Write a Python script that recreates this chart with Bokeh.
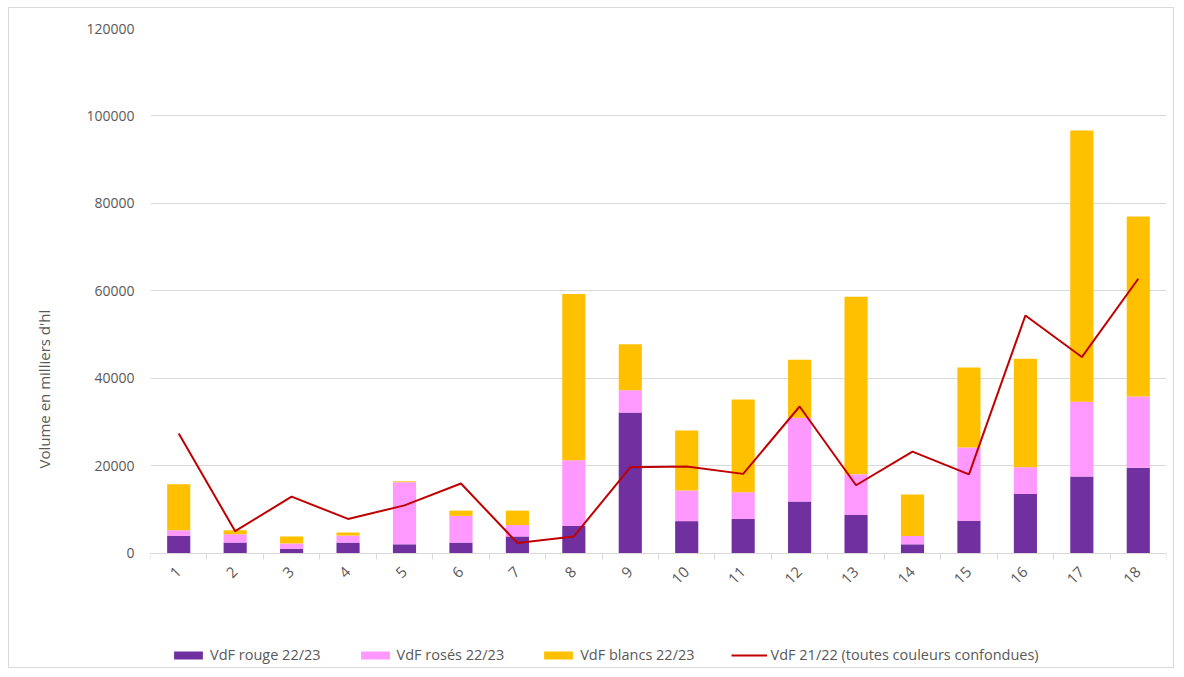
import math
from bokeh.plotting import figure
from bokeh.models import (ColumnDataSource, FixedTicker, BasicTickFormatter, Legend,
                          LegendItem, Title, Range1d)
from bokeh.embed import file_html
from bokeh.resources import INLINE

categories = list(range(1, 19))
rouge = [4000, 2500, 1100, 2500, 2100, 2500, 3900, 6300, 32200, 7400, 7900, 11900, 8800, 2100, 7500, 13600, 17600, 19600]
roses = [1300, 1900, 1200, 1600, 14200, 6100, 2600, 15000, 5100, 7000, 6100, 19100, 9300, 1900, 16700, 6100, 17100, 16300]
blancs = [10500, 900, 1600, 700, 200, 1200, 3300, 38000, 10500, 13700, 21200, 13300, 40600, 9500, 18300, 24800, 62000, 41100]
vdf_2122 = [27400, 5100, 13000, 7900, 11000, 16000, 2400, 3900, 19700, 19900, 18200, 33600, 15600, 23300, 18100, 54400, 44900, 62800]
y_ticks = [0, 20000, 40000, 60000, 80000, 100000, 120000]

FONT = "Open Sans"
GREY = "#595959"

rouge_top = rouge
roses_top = [a + b for a, b in zip(rouge, roses)]
blancs_top = [a + b for a, b in zip(roses_top, blancs)]

src = ColumnDataSource(dict(x=categories, rouge_top=rouge_top, roses_top=roses_top,
                            blancs_top=blancs_top, zero=[0] * len(categories), line=vdf_2122))

# frame extends below the x axis so that the legend can sit inside it
p = figure(width=1166, height=661, output_backend="svg", toolbar_location=None,
           x_range=Range1d(0.5, 18.5), y_range=Range1d(-26286, 120000),
           min_border_left=141, min_border_right=9, min_border_top=20, min_border_bottom=1,
           margin=(7, 8, 7, 8))
p.styles = {"border": "1px solid #d9d9d9"}
p.outline_line_color = None
p.background_fill_color = "white"
p.border_fill_color = "white"

W = 0.41
r1 = p.vbar(x="x", bottom="zero", top="rouge_top", width=W, source=src, fill_color="#7030a0", line_color=None)
r2 = p.vbar(x="x", bottom="rouge_top", top="roses_top", width=W, source=src, fill_color="#ff99ff", line_color=None)
r3 = p.vbar(x="x", bottom="roses_top", top="blancs_top", width=W, source=src, fill_color="#ffc000", line_color=None)
r4 = p.line(x="x", y="line", source=src, line_color="#c00000", line_width=2)

# axes
p.xaxis.fixed_location = 0
p.xaxis.ticker = FixedTicker(ticks=categories, minor_ticks=[c - 0.5 for c in categories] + [18.5])
p.xaxis.major_tick_line_color = None
p.xaxis.minor_tick_line_color = "#d9d9d9"
p.xaxis.minor_tick_in = 0
p.xaxis.minor_tick_out = 6
p.xaxis.axis_line_color = "#d9d9d9"
p.xaxis.major_label_orientation = math.pi / 4
p.xaxis.major_label_text_font = FONT
p.xaxis.major_label_text_font_size = "15px"
p.xaxis.major_label_text_color = GREY
p.xaxis.major_label_standoff = 10

p.yaxis.ticker = FixedTicker(ticks=y_ticks)
p.yaxis.formatter = BasicTickFormatter(use_scientific=False)
p.yaxis.axis_line_color = None
p.yaxis.major_tick_line_color = None
p.yaxis.minor_tick_line_color = None
p.yaxis.major_label_text_font = FONT
p.yaxis.major_label_text_font_size = "14px"
p.yaxis.major_label_text_color = GREY
p.yaxis.major_label_standoff = 10

p.xgrid.grid_line_color = None
p.ygrid.grid_line_color = "#d9d9d9"
p.ygrid.ticker = FixedTicker(ticks=y_ticks)

# empty spacer between the tick labels and the axis title
spacer = Title(text=" ", text_font_size="10px", standoff=12)
p.add_layout(spacer, "left")

ytitle = Title(text="Volume en milliers d'hl", align="left", offset=200, text_font=FONT,
               text_font_size="15px", text_font_style="normal", text_color=GREY, standoff=10)
p.add_layout(ytitle, "left")

legend = Legend(items=[
    LegendItem(label="VdF rouge 22/23", renderers=[r1]),
    LegendItem(label="VdF rosés 22/23", renderers=[r2]),
    LegendItem(label="VdF blancs 22/23", renderers=[r3]),
    LegendItem(label="VdF 21/22 (toutes couleurs confondues)", renderers=[r4]),
], orientation="horizontal", location=(20, 4))
legend.label_text_font = FONT
legend.label_text_font_size = "14.5px"
legend.label_text_color = GREY
legend.glyph_width = 36
legend.glyph_height = 10
legend.label_standoff = 4
legend.spacing = 36
legend.border_line_color = None
legend.background_fill_alpha = 0
legend.margin = 0
legend.padding = 0
p.add_layout(legend, "center")

open("out.html", "w").write(file_html(p, INLINE))
